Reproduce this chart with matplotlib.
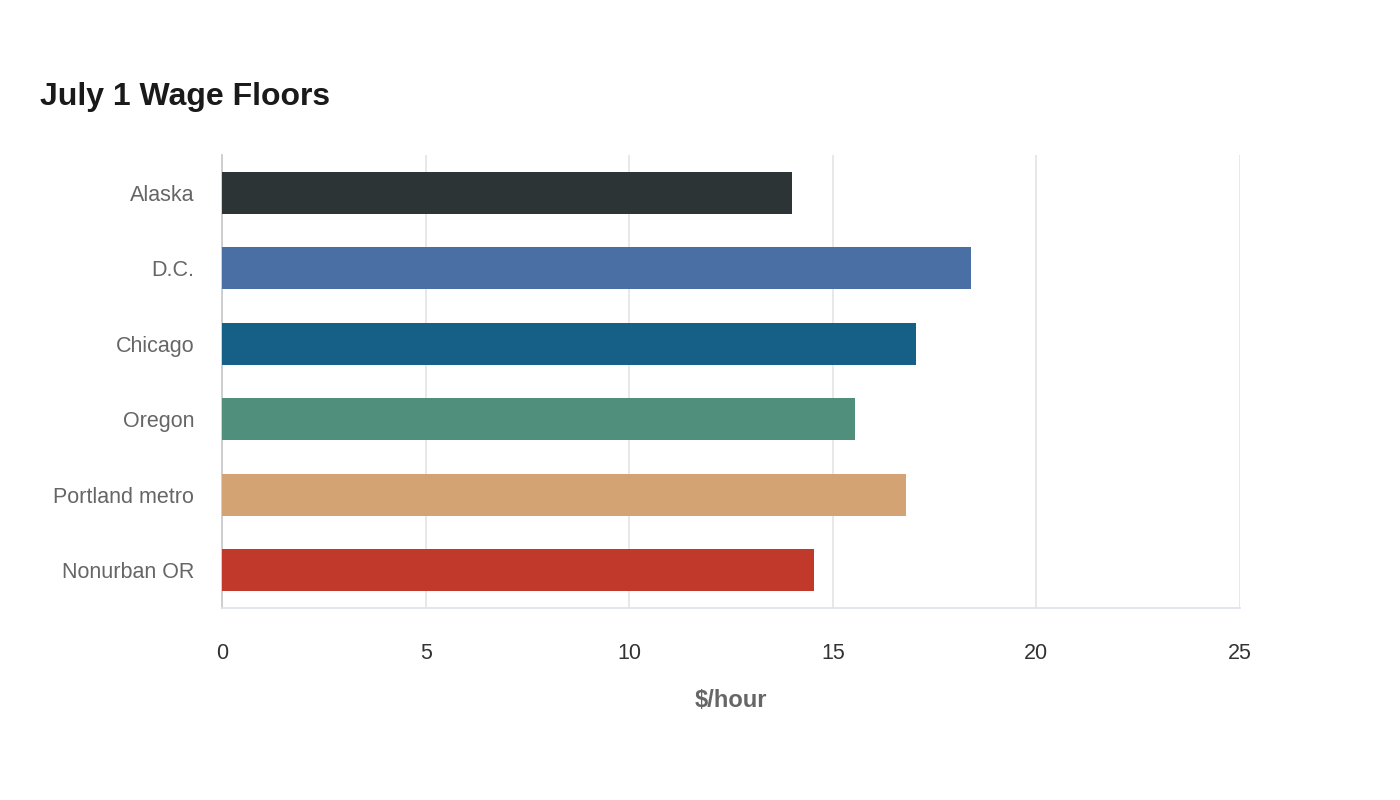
import matplotlib.pyplot as plt

plt.rcParams['font.family'] = ['Liberation Sans', 'DejaVu Sans']

# Data
places = ['Alaska', 'D.C.', 'Chicago', 'Oregon', 'Portland metro', 'Nonurban OR']
wages = [14.0, 18.4, 17.04, 15.55, 16.8, 14.55]
colors = ['#2d3436', '#4a6fa5', '#166088', '#4f8f7b', '#d4a373', '#c0392b']
xticks = [0, 5, 10, 15, 20, 25]

fig = plt.figure(figsize=(14, 8), dpi=100)
ax = fig.add_axes([0.1586, 0.24, 0.7271, 0.56625])

ypos = list(range(len(places)))
ax.barh(ypos, wages, height=0.55, color=colors, linewidth=0, zorder=3)

ax.set_ylim(len(places) - 0.5, -0.5)
ax.set_xlim(0, 25)
ax.set_xticks(xticks)
ax.set_xticklabels([str(t) for t in xticks], fontsize=15.5, color='#333333')
ax.set_yticks(ypos)
ax.set_yticklabels(places, fontsize=15.5, color='#666666')
ax.tick_params(axis='both', length=0)
ax.tick_params(axis='x', pad=25)
ax.tick_params(axis='y', pad=20)

ax.grid(axis='x', color='#e6e6e6', linewidth=1.3, zorder=0)
for s in ['top', 'right']:
    ax.spines[s].set_visible(False)
ax.spines['left'].set_color('#cccccc')
ax.spines['left'].set_linewidth(1.3)
ax.spines['bottom'].set_color('#e0e3ee')
ax.spines['bottom'].set_linewidth(1.3)

ax.set_xlabel('$/hour', fontsize=17, fontweight='bold', color='#666666', labelpad=18)

fig.text(40 / 1400, 1 - 97 / 800, 'July 1 Wage Floors', fontsize=23,
         fontweight='bold', color='#1a1a1a', va='center', ha='left')

fig.savefig('out.png', dpi=100)
